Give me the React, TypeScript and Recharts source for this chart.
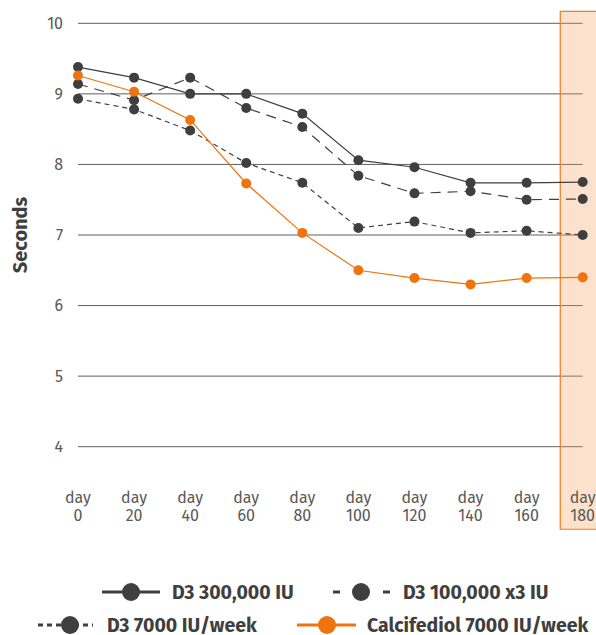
import React from "react";
import {
  LineChart,
  Line,
  XAxis,
  YAxis,
  CartesianGrid,
  ReferenceArea,
  Legend,
} from "recharts";

const days = [0, 20, 40, 60, 80, 100, 120, 140, 160, 180];
const d3Single = [9.38, 9.23, 9.0, 9.0, 8.72, 8.06, 7.96, 7.74, 7.74, 7.75];
const d3Triple = [9.14, 8.91, 9.23, 8.8, 8.53, 7.84, 7.59, 7.62, 7.5, 7.51];
const d3Weekly = [8.93, 8.78, 8.48, 8.02, 7.74, 7.1, 7.19, 7.03, 7.06, 7.0];
const calcifediol = [9.26, 9.03, 8.63, 7.73, 7.03, 6.5, 6.39, 6.3, 6.39, 6.4];
const yTicks = [4, 5, 6, 7, 8, 9, 10];

// highlighted last visit, in data units
const bandDays = [172, 200];
const bandSeconds = [2.83, 10.17];

const DARK = "#3f3f3f";
const ORANGE = "#ee7410";
const FONT = "'Fira Sans', Roboto, sans-serif";

const data = days.map((d, i) => ({
  day: d,
  single: d3Single[i],
  triple: d3Triple[i],
  weekly: d3Weekly[i],
  calc: calcifediol[i],
}));

const seriesInfo = [
  { key: "single", name: "D3 300,000 IU", color: DARK, dash: undefined, iconDash: undefined },
  { key: "triple", name: "D3 100,000 x3 IU", color: DARK, dash: "10 7", iconDash: "7 43 7" },
  { key: "weekly", name: "D3 7000 IU/week", color: DARK, dash: "5 4", iconDash: "5 4" },
  { key: "calc", name: "Calcifediol 7000 IU/week", color: ORANGE, dash: undefined, iconDash: undefined },
];

// legend spots: left, top, icon width, circle x, gap to text
const legendSpots = [
  [102, 0, 58, 29, 12],
  [333, 0, 57, 28, 13],
  [38, 33, 55, 32, 14],
  [297, 33, 59, 30, 11],
];

function DayTick(props: any) {
  const { x, y, payload } = props;
  return (
    <text x={x} y={y} textAnchor="middle" fill="#595959" fontSize={16} fontFamily={FONT}>
      <tspan x={x} dy={54}>
        day
      </tspan>
      <tspan x={x} dy={18.5}>
        {payload.value}
      </tspan>
    </text>
  );
}

function ChartLegend() {
  return (
    <div
      style={{
        position: "relative",
        width: 596,
        height: 62,
        fontFamily: FONT,
        fontWeight: 700,
        fontSize: 19.5,
        color: DARK,
      }}
    >
      {seriesInfo.map((s, i) => {
        const [left, top, w, cx, gap] = legendSpots[i];
        return (
          <div
            key={s.key}
            style={{
              position: "absolute",
              left,
              top,
              height: 32,
              display: "flex",
              alignItems: "center",
              whiteSpace: "nowrap",
            }}
          >
            <svg width={w} height={32} style={{ marginRight: gap }}>
              <line
                x1={0}
                x2={w}
                y1={16}
                y2={16}
                stroke={s.color}
                strokeWidth={3}
                strokeDasharray={s.iconDash}
              />
              <circle cx={cx} cy={16} r={9} fill={s.color} />
            </svg>
            <span>{s.name}</span>
          </div>
        );
      })}
    </div>
  );
}

export default function App() {
  return (
    <div
      style={{
        position: "fixed",
        left: 0,
        top: 0,
        width: 596,
        height: 635,
        overflow: "hidden",
        background: "#fff",
      }}
    >
      <LineChart
        width={596}
        height={635}
        data={data}
        margin={{ top: 23.3, right: 13.3, left: 0, bottom: 66.3 }}
      >
        <ReferenceArea
          x1={bandDays[0]}
          x2={bandDays[1]}
          y1={bandSeconds[0]}
          y2={bandSeconds[1]}
          ifOverflow="visible"
          fill="#f5a05a"
          fillOpacity={0.3}
          stroke="#ef7d21"
          strokeWidth={1.2}
        />
        <CartesianGrid vertical={false} stroke="#5f5f5f" strokeWidth={1} />
        <XAxis
          dataKey="day"
          type="number"
          domain={[0, 180]}
          ticks={days}
          axisLine={false}
          tickLine={false}
          tickSize={0}
          height={60}
          tick={<DayTick />}
          interval={0}
        />
        <YAxis
          type="number"
          domain={[4, 10]}
          ticks={yTicks}
          width={78}
          axisLine={false}
          tickLine={false}
          tickSize={0}
          tickMargin={15}
          tick={{ fill: "#595959", fontSize: 16, fontFamily: FONT }}
          label={{
            value: "Seconds",
            angle: -90,
            position: "insideLeft",
            offset: 20,
            style: {
              textAnchor: "middle",
              fill: DARK,
              fontSize: 20,
              fontWeight: 700,
              fontFamily: FONT,
            },
          }}
        />
        {seriesInfo.map((s) => (
          <Line
            key={s.key}
            dataKey={s.key}
            name={s.name}
            type="linear"
            stroke={s.color}
            strokeWidth={1.2}
            strokeDasharray={s.dash}
            dot={{ r: 5, fill: s.color, stroke: "none" }}
            activeDot={false}
            isAnimationActive={false}
          />
        ))}
        <Legend
          content={<ChartLegend />}
          verticalAlign="bottom"
          wrapperStyle={{ left: 0, top: 576, width: 596, height: 62 }}
        />
      </LineChart>
    </div>
  );
}
